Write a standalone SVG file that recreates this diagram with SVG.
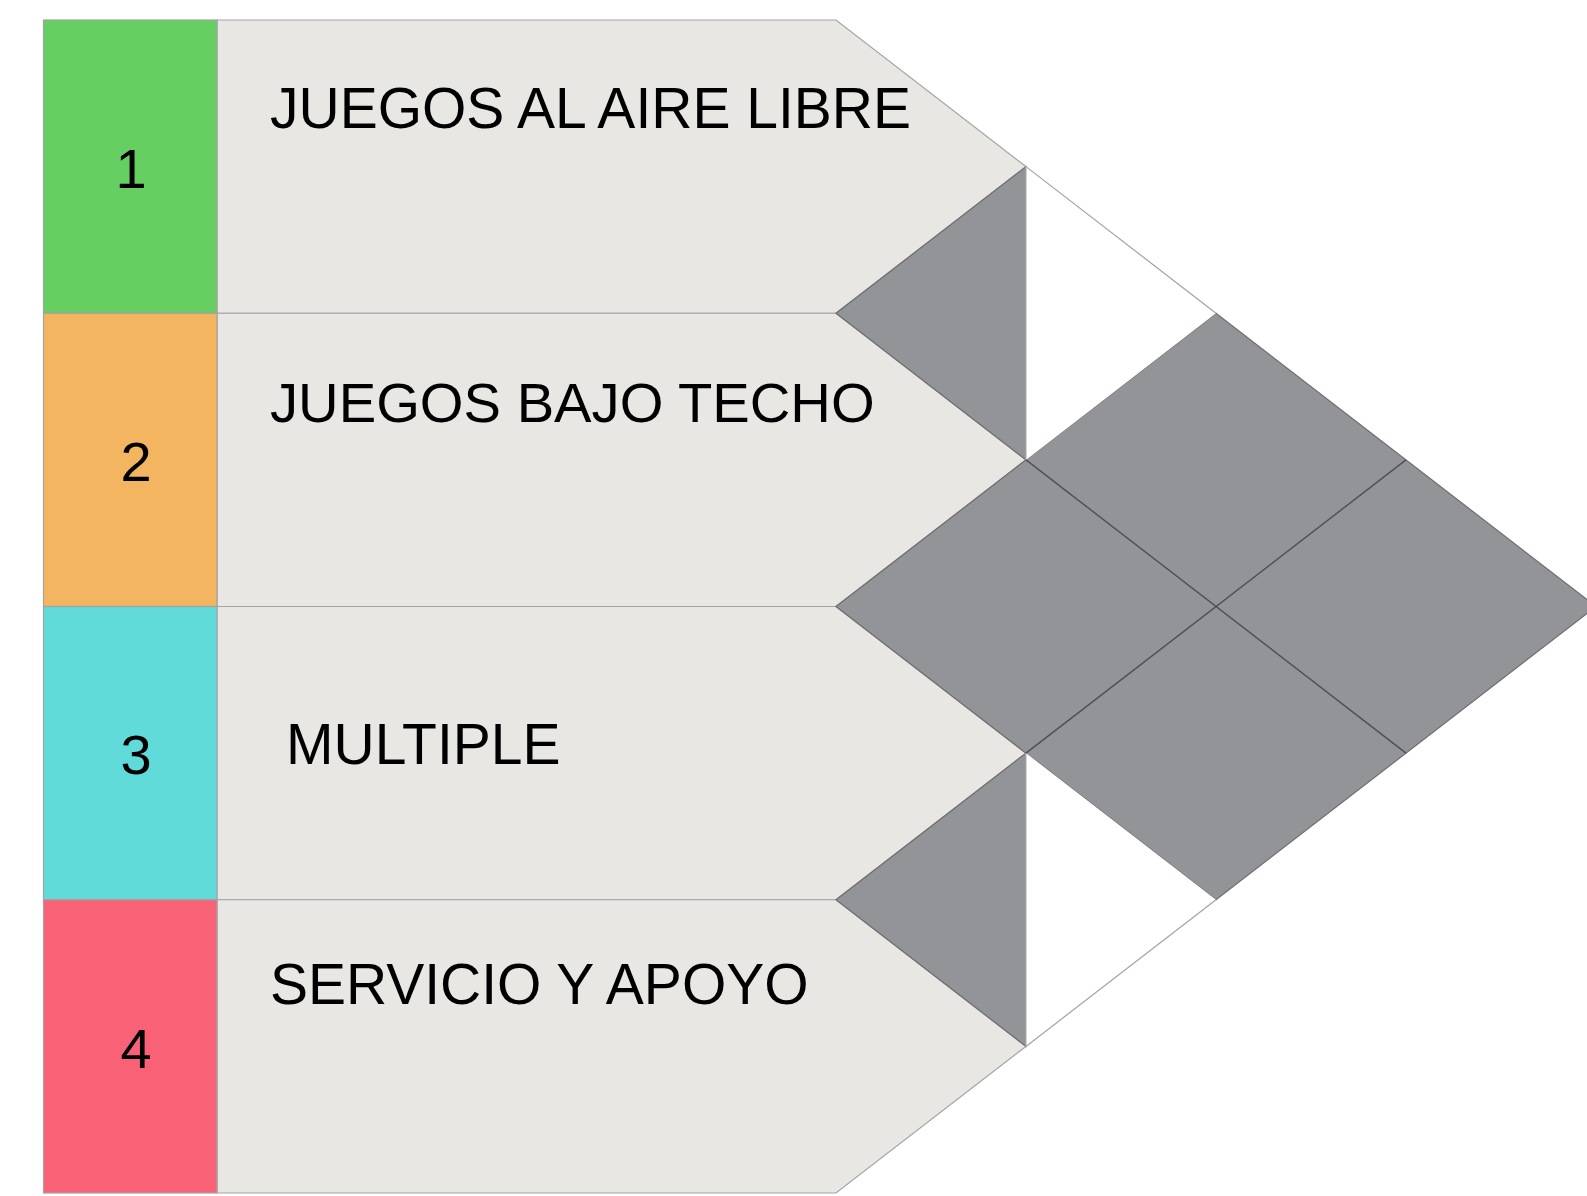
<svg xmlns="http://www.w3.org/2000/svg" width="1587" height="1196" viewBox="0 0 1587 1196">
  <style>
    .chev { fill: #e8e7e4; stroke: #a3a3a3; stroke-width: 1.2; }
    .cell { stroke: #a3a3a3; stroke-width: 1.2; }
    .num { font-family: "Liberation Sans", Arial, sans-serif; font-size: 56px; fill: #000; text-anchor: middle; }
    .lbl { font-family: "Liberation Sans", Arial, sans-serif; font-size: 57px; fill: #000; }
    .tile { fill: #939498; stroke: #6e6e72; stroke-width: 1.2; stroke-linejoin: miter; }
    .inner { stroke: #4f4f52; stroke-width: 1.4; fill: none; }
    .edge { stroke: #a3a3a3; stroke-width: 1.2; fill: none; }
  </style>
  <rect width="1587" height="1196" fill="#ffffff"/>

  <g id="row1">
    <polygon class="chev" points="217,20 836,20 1026,166.6 836,313.25 217,313.25"/>
    <rect class="cell" x="43.5" y="20" width="173.5" height="293.25" fill="#66cf62"/>
    <text class="num" x="131" y="187.5">1</text>
    <text class="lbl" x="270" y="128.3">JUEGOS AL AIRE LIBRE</text>
  </g>
  <g id="row2">
    <polygon class="chev" points="217,313.25 836,313.25 1026,459.9 836,606.5 217,606.5"/>
    <rect class="cell" x="43.5" y="313.25" width="173.5" height="293.25" fill="#f3b560"/>
    <text class="num" x="136" y="480.5">2</text>
    <text class="lbl" x="270" y="421.7" style="font-size:56.2px">JUEGOS BAJO TECHO</text>
  </g>
  <g id="row3">
    <polygon class="chev" points="217,606.5 836,606.5 1026,753.1 836,899.75 217,899.75"/>
    <rect class="cell" x="43.5" y="606.5" width="173.5" height="293.25" fill="#60dbda"/>
    <text class="num" x="136" y="773.6">3</text>
    <text class="lbl" x="286" y="764.3">MULTIPLE</text>
  </g>
  <g id="row4">
    <polygon class="chev" points="217,899.75 836,899.75 1026,1046.4 836,1193 217,1193"/>
    <rect class="cell" x="43.5" y="899.75" width="173.5" height="293.25" fill="#f96276"/>
    <text class="num" x="136" y="1067.5">4</text>
    <text class="lbl" x="270" y="1004.3">SERVICIO Y APOYO</text>
  </g>

  <g id="tiles">
    <polygon class="tile" points="836,313.25 1026,166.6 1026,459.9"/>
    <polygon class="tile" points="836,899.75 1026,753.1 1026,1046.4"/>
    <polygon class="tile" points="836,606.5 1216,313.25 1596,606.5 1216,899.75"/>
    <polygon fill="#ffffff" points="1026,166.6 1216,313.25 1026,459.9"/>
    <polygon fill="#ffffff" points="1026,753.1 1216,899.75 1026,1046.4"/>
    <line class="edge" x1="1026" y1="166.6" x2="1216" y2="313.25"/>
    <line class="edge" x1="1216" y1="899.75" x2="1026" y2="1046.4"/>
    <line x1="1026" y1="166.6" x2="1026" y2="459.9" stroke="#b8b8b8" stroke-width="1.2"/>
    <line x1="1026" y1="753.1" x2="1026" y2="1046.4" stroke="#b8b8b8" stroke-width="1.2"/>
  </g>

  <g id="connectors">
    <line class="inner" x1="1026" y1="459.9" x2="1406" y2="753.1"/>
    <line class="inner" x1="1026" y1="753.1" x2="1406" y2="459.9"/>
  </g>
</svg>
